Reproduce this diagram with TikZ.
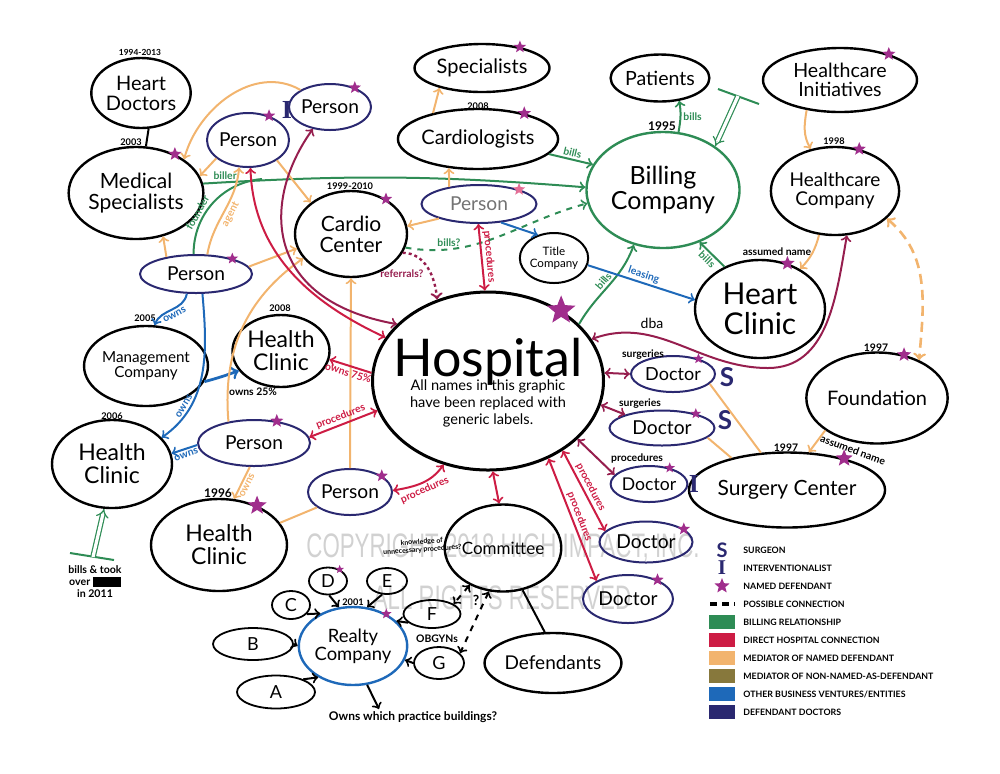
\documentclass[tikz,border=0pt]{standalone}
\usepackage{graphicx}
\usepackage{fontspec}
\setmainfont{Lato}
\newfontfamily\slabfont{Liberation Serif}
\newfontfamily\wmfont{Liberation Sans}
\usetikzlibrary{shapes.geometric,arrows.meta}
\definecolor{grn}{RGB}{46,140,85}
\definecolor{crim}{RGB}{205,28,68}
\definecolor{maro}{RGB}{150,30,78}
\definecolor{pnk}{RGB}{228,110,150}
\definecolor{orng}{RGB}{242,180,110}
\definecolor{olv}{RGB}{135,120,60}
\definecolor{blu}{RGB}{30,105,185}
\definecolor{nvy}{RGB}{42,40,112}
\definecolor{pstar}{RGB}{160,45,140}
\newcommand\fsz[1]{\fontsize{#1pt}{#1pt}\selectfont}
\tikzset{
  ent/.style={ellipse, draw, line width=1.2pt, inner sep=0pt, align=center},
  pers/.style={ent, draw=nvy, line width=1pt, font=\fsz{9.6}},
  lett/.style={ent, line width=0.9pt, font=\fsz{9}},
  lnk/.style={line width=1pt},
  grnln/.style={lnk, grn},
  orgln/.style={lnk, orng},
  bluln/.style={lnk, blu},
  crimln/.style={lnk, crim},
  maroln/.style={lnk, maro},
  lbl/.style={font=\bfseries\fsz{5.2}, inner sep=1pt},
  yr/.style={font=\bfseries\fsz{4.6}, inner sep=0pt},
  nstar/.style={star, star points=5, star point ratio=2.3, fill=pstar, inner sep=0pt, minimum size=#1},
  nstar/.default=7pt,
  glyph/.style={font=\bfseries\fsz{13}, text=nvy, inner sep=0pt},
  lgbox/.style={rectangle, minimum width=13pt, minimum height=7pt, inner sep=0pt},
  lgtxt/.style={font=\bfseries\fsz{4.4}, anchor=west, inner sep=0pt},
  wm/.style={font=\wmfont\fsz{17}, text=black!18, inner sep=0pt}
}
\begin{document}
\begin{tikzpicture}[x=0.5pt,y=0.5pt]
\useasboundingbox (0,0) rectangle (1000,-773);

\node[wm] (wm1) at (503,-548) {\scalebox{0.655}[1]{COPYRIGHT 2018 HIGH IMPACT, INC.}};
\node[wm] (wm2) at (502,-598) {\scalebox{0.655}[1]{ALL RIGHTS RESERVED}};

\node[ent, minimum width=46pt, minimum height=35pt, font=\fsz{10}] (hdoc) at (141,-93) {Heart\\Doctors};
\node[ent, minimum width=59pt, minimum height=46pt, font=\fsz{10.5}] (medspec) at (136,-193) {Medical\\Specialists};
\node[pers, minimum width=36.5pt, minimum height=27pt] (persI) at (248,-140) {Person};
\node[pers, minimum width=34.5pt, minimum height=23pt] (persTR) at (330,-107) {Person};
\node[ent, minimum width=56pt, minimum height=43pt, font=\fsz{10.5}] (cardio) at (351,-234) {Cardio\\Center};
\node[pers, minimum width=56pt, minimum height=19pt] (persL) at (196,-274) {Person};
\node[ent, minimum width=50pt, minimum height=40pt, font=\fsz{7.6}] (mgmt) at (146,-366) {Management\\Company};
\node[ent, minimum width=48.5pt, minimum height=36pt, font=\fsz{11.5}] (hc08) at (281,-351) {Health\\Clinic};
\node[ent, minimum width=60pt, minimum height=44pt, font=\fsz{11.5}] (hc06) at (112,-464) {Health\\Clinic};
\node[pers, minimum width=56pt, minimum height=23pt] (persP) at (254,-443) {Person};
\node[ent, minimum width=68pt, minimum height=46pt, font=\fsz{11.5}] (hc96) at (219,-545) {Health\\Clinic};
\node[pers, minimum width=42pt, minimum height=23pt] (persB) at (350,-492) {Person};
\node[ent, minimum width=67.5pt, minimum height=24pt, font=\fsz{10}] (spec) at (482,-68) {Specialists};
\node[ent, minimum width=74pt, minimum height=30pt, font=\fsz{10}] (cardiol) at (478,-139) {Cardiologists};
\node[pers, minimum width=57.5pt, minimum height=19pt, text=black!55] (persC) at (479,-204) {Person};
\node[ent, minimum width=30pt, minimum height=25pt, line width=1pt, font=\fsz{5.8}] (title) at (554,-258) {Title\\Company};
\node[ent, draw=grn, minimum width=76.5pt, minimum height=58pt, font=\fsz{12.5}] (billing) at (663,-190) {Billing\\Company};
\node[ent, minimum width=48pt, minimum height=23.5pt, font=\fsz{9.8}] (patients) at (660,-78) {Patients};
\node[ent, minimum width=77pt, minimum height=32pt, font=\fsz{9.8}] (hcinit) at (840,-80) {Healthcare\\Initiatives};
\node[ent, minimum width=57.5pt, minimum height=44pt, font=\fsz{9.5}] (hccomp) at (835,-191) {Healthcare\\Company};
\node[ent, minimum width=65pt, minimum height=49pt, font=\fsz{15}] (heartcl) at (760,-309) {Heart\\Clinic};
\node[ent, line width=1.5pt, minimum width=115.5pt, minimum height=89pt] (hosp) at (488,-381) {};
\node[font=\fsz{26}, inner sep=0pt] (hosptit) at (488,-362) {Hospital};
\node[font=\fontsize{7.3pt}{8.5pt}\selectfont, align=center, inner sep=0pt] (hospnote) at (488,-403) {All names in this graphic\\have been replaced with\\generic labels.};
\node[pers, minimum width=42pt, minimum height=18pt, font=\fsz{9}] (docS1) at (673,-374) {Doctor};
\node[pers, minimum width=52.5pt, minimum height=17.5pt, font=\fsz{9.6}] (docS2) at (662,-428) {Doctor};
\node[pers, minimum width=34pt, minimum height=18pt, font=\fsz{8.8}] (docI) at (649,-484) {Doctor};
\node[ent, minimum width=90pt, minimum height=37.5pt, font=\fsz{10.5}] (surg) at (787,-490) {Surgery Center};
\node[ent, minimum width=60.5pt, minimum height=45.5pt, font=\fsz{10}] (found) at (877,-398) {Foundation};
\node[pers, minimum width=46.5pt, minimum height=20.5pt, font=\fsz{9.6}] (docL1) at (646,-542) {Doctor};
\node[pers, minimum width=45pt, minimum height=24pt, font=\fsz{9.6}] (docL2) at (628,-599) {Doctor};
\node[ent, minimum width=55pt, minimum height=43.5pt, font=\fsz{8.5}] (comm) at (503,-548) {Committee};
\node[ent, minimum width=64.5pt, minimum height=30pt, font=\fsz{9.5}] (defs) at (553,-663) {Defendants};
\node[ent, draw=blu, minimum width=51.5pt, minimum height=39pt, font=\fsz{9.2}] (realty) at (353,-646) {Realty\\Company};
\node[lett, minimum width=19pt, minimum height=13.5pt] (pD) at (328,-581) {D};
\node[lett, minimum width=20pt, minimum height=13pt] (pE) at (387,-581) {E};
\node[lett, minimum width=19pt, minimum height=14pt] (pC) at (291,-605) {C};
\node[lett, minimum width=28.5pt, minimum height=14pt] (pF) at (432,-614) {F};
\node[lett, minimum width=40pt, minimum height=16pt] (pB) at (253,-644) {B};
\node[lett, minimum width=25pt, minimum height=16pt] (pG) at (439,-663) {G};
\node[lett, minimum width=39pt, minimum height=16.5pt] (pA) at (276,-692) {A};

\node[nstar=7pt] (st1) at (medspec.45) {};
\node[nstar=6.5pt] (st2) at (persI.49) {};
\node[nstar=6.5pt] (st3) at (persTR.38) {};
\node[nstar=6.5pt] (st4) at (cardio.45) {};
\node[nstar=6pt] (st5) at (persL.23) {};
\node[nstar=7pt] (st6) at (persP.44) {};
\node[nstar=10pt] (st7) at (hc96.46) {};
\node[nstar=6.5pt] (st8) at (persB.27) {};
\node[nstar=6.5pt] (st9) at (spec.29) {};
\node[nstar=7pt] (st10) at (cardiol.29) {};
\node[nstar=6.5pt, fill=pnk] (st11) at (persC.20) {};
\node[nstar=7pt] (st12) at (hccomp.60) {};
\node[nstar=7pt] (st13) at (hcinit.28) {};
\node[nstar=7.5pt] (st14) at (heartcl.59) {};
\node[nstar=15pt] (st15) at (hosp.44) {};
\node[nstar=5.5pt] (st16) at (docS1.31) {};
\node[nstar=5.5pt] (st17) at (docS2.23) {};
\node[nstar=5.5pt] (st18) at (docI.38) {};
\node[nstar=6.5pt] (st19) at (docL1.19) {};
\node[nstar=6.5pt] (st20) at (docL2.33) {};
\node[nstar=9pt] (st21) at (surg.29) {};
\node[nstar=7.5pt] (st22) at (found.58) {};
\node[nstar=5.5pt] (st23) at (realty.44) {};
\node[nstar=4.5pt] (st24) at (pD.45) {};

\node[glyph, font=\slabfont\bfseries\fsz{13}] (gI1) at (287,-110) {I};
\node[glyph, font=\slabfont\bfseries\fsz{13}] (gI2) at (694,-484) {I};
\node[glyph] (gS1) at (727,-377) {S};
\node[glyph] (gS2) at (725,-420) {S};

\node[yr, font=\bfseries\fsz{4.2}] (y1) at (140,-52) {1994-2013};
\node[yr] (y2) at (131,-142) {2003};
\node[yr] (y3) at (350,-186) {1999-2010};
\node[yr] (y4) at (280,-308) {2008};
\node[yr] (y5) at (145,-318) {2005};
\node[yr] (y6) at (112,-416) {2006};
\node[yr, font=\bfseries\fsz{6}] (y7) at (218,-493) {1996};
\node[yr] (y8) at (478,-106) {2008};
\node[yr, font=\bfseries\fsz{6}] (y9) at (662,-126) {1995};
\node[yr] (y10) at (834,-141) {1998};
\node[yr, font=\bfseries\fsz{5.2}] (y11) at (876,-348) {1997};
\node[yr, font=\bfseries\fsz{5.2}] (y12) at (786,-448) {1997};
\node[yr] (y13) at (353,-602) {2001};
\node[lbl] (an1) at (777,-252) {assumed name};
\node[lbl, rotate=-20] (an2) at (853,-450) {assumed name};
\node[lbl] (obg) at (437,-639) {OBGYNs};
\node[lbl, font=\bfseries\fsz{6}] (bldq) at (413,-717) {Owns which practice buildings?};
\node[lbl, align=center, font=\bfseries\fontsize{5.3pt}{6pt}\selectfont] (tookov) at (95,-582) {bills \& took\\over \rule[-0.6pt]{14pt}{5pt}\\in 2011};
\node[lbl, align=center, rotate=4, font=\bfseries\fontsize{3.5pt}{4pt}\selectfont] (knw) at (422,-546) {knowledge of\\unnecessary procedures?};
\node[lbl, font=\bfseries\fsz{7}] (qm) at (476,-600) {?};
\node[lbl] (lsg1) at (643,-355) {surgeries};
\node[lbl] (lsg2) at (640,-404) {surgeries};
\node[lbl] (lprI) at (637,-458) {procedures};
\node[font=\fsz{7}, inner sep=0pt] (ldba) at (652,-323) {dba};
\node[lbl] (lo25) at (253,-392) {owns 25\%};

\draw[lnk] (hdoc.-78) -- (medspec.78);
\draw[lnk] (comm.-65) -- (defs.105);

\coordinate (bjoin) at (262,-179);
\draw[grnln,-to] (medspec.8) to[bend left=4] node[pos=0.05,above,lbl]{biller} (billing.178);
\draw[grnln] (persL.97) to[out=90,in=185] node[pos=0.35,sloped,above,lbl]{founder} (bjoin);
\draw[grnln,-to] (cardiol.-12) -- node[sloped,above,lbl]{bills} (billing.160);
\draw[grnln,-to] (billing.75) to[out=80,in=-80] node[right,lbl]{bills} (patients.-50);
\draw[grnln,-to] (heartcl.130) -- node[sloped,below,lbl]{bills} (billing.-55);
\draw[grnln,-to] (hosp.32) to[out=60,in=-110] node[sloped,above,lbl]{bills} (billing.-118);
\draw[grnln,dashed,-to] (cardio.-14) to[out=-10,in=195] node[pos=0.22,above,lbl]{bills?} (billing.190);
\coordinate (tb) at (738,-96);
\coordinate (tbL) at (718,-89);
\coordinate (tbR) at (759,-104);
\draw[grnln] (tbL) -- (tbR);
\draw[grn, line width=0.6pt, double, double distance=1.6pt, -{Implies}] (tb) -- (billing.40);
\coordinate (tb2) at (93,-557);
\coordinate (tb2L) at (70,-553);
\coordinate (tb2R) at (114,-560);
\draw[grnln] (tb2L) -- (tb2R);
\draw[grn, line width=0.6pt, double, double distance=1.6pt, -{Implies}] (tb2) -- (hc06.-100);

\draw[bluln,-to] (persC.-40) -- (title.125);
\draw[bluln,-to] (title.-12) -- node[sloped,above,lbl]{leasing} (heartcl.172);
\draw[bluln,-to] (persL.-115) to[out=-100,in=70] node[sloped,below,lbl]{owns} (mgmt.78);
\draw[bluln,-to] (persL.-72) to[out=-85,in=35] node[pos=0.75,sloped,above,lbl]{owns} (hc06.28);
\draw[bluln,line width=1.4pt,-to] (mgmt.-15) to[out=15,in=200] (hc08.205);
\draw[bluln,-to] (persP.182) -- node[sloped,below,lbl]{owns} (hc06.10);

\draw[orgln,-to] (persI.210) -- (medspec.15);
\draw[orgln,-to] (persTR.150) to[out=150,in=75] (medspec.35);
\draw[orgln,-to] (persL.150) -- (medspec.-58);
\draw[orgln,-to] (persL.60) to[out=80,in=-95] node[sloped,below,lbl]{agent} (persI.-108);
\draw[orgln,-to] (persI.-35) -- (cardio.142);
\draw[orgln,-to] (persL.8) -- (cardio.195);
\draw[orgln,-to] (persP.140) to[out=95,in=215] (cardio.207);
\draw[orgln,-to] (persB.90) -- (cardio.-90);
\draw[orgln] (hc96.20) -- (persB.205);
\draw[orgln,-to] (persP.-100) -- node[sloped,below,lbl]{owns} (hc96.72);
\draw[orgln] (docS1.-15) -- (surg.125);
\draw[orgln] (docS2.-12) -- (surg.150);
\draw[orgln,-to] (found.212) -- (surg.60);
\draw[orgln,-to] (hcinit.222) to[out=-100,in=120] (hccomp.120);
\draw[orgln,-to] (hccomp.-110) to[bend left=15] (heartcl.45);
\draw[orgln,line width=1.3pt,dash pattern=on 5pt off 3pt,to-to] (hccomp.-28) to[out=-40,in=85] (found.42);
\draw[orgln,-to] (cardiol.150) -- (spec.-155);
\draw[orgln,-to] (persC.150) -- (cardiol.-135);
\draw[orgln,-to] (persC.200) -- (cardio.8);

\draw[crimln,to-to] (persI.-85) to[out=-88,in=155] (hosp.157);
\draw[maroln,to-to] (persTR.-128) .. controls (262,-200) and (262,-300) .. (hosp.148);
\draw[crimln,-to] (hosp.176) -- node[sloped,below,lbl]{owns 75\%} (hc08.-10);
\draw[crimln,to-to] (persP.6) -- node[sloped,above,lbl]{procedures} (hosp.195);
\draw[crimln,to-to] (persB.2) to[out=10,in=235] node[sloped,below,lbl]{procedures} (hosp.242);
\draw[crimln,to-to] (hosp.-87) -- (comm.95);
\draw[crimln,to-to] (hosp.-52) -- node[sloped,above,lbl]{procedures} (docL2.150);
\draw[crimln,to-to] (hosp.-43) -- node[sloped,above,lbl]{procedures} (docL1.165);
\draw[maroln,to-to] (hosp.-33) -- (docI.165);
\draw[maroln,to-to] (hosp.-12) -- (docS2.160);
\draw[maroln,to-to] (hosp.4) -- (docS1.180);
\coordinate (dbalow) at (768,-368);
\draw[maroln,to-to] (hosp.22) to[out=20,in=180] (dbalow) to[out=0,in=-100] (hccomp.-75);
\draw[maroln,line width=1.2pt,dash pattern=on 1.5pt off 1.5pt,-to] (cardio.-20) to[out=0,in=95] node[pos=0.6,left=2pt,lbl]{referrals?} (hosp.122);
\draw[crimln,to-to] (persC.-92) -- node[sloped,above,lbl]{procedures} (hosp.92);

\draw[lnk,dashed,to-to] (comm.228) -- (pF.25);
\draw[lnk,dashed,to-to] (comm.-108) -- (pG.25);
\draw[lnk,-to] (pA.25) -- (realty.222);
\draw[lnk,-to] (pB.0) -- (realty.180);
\draw[lnk,-to] (pC.-30) -- (realty.135);
\draw[lnk,-to] (pD.-85) -- (realty.110);
\draw[lnk,-to] (pE.-110) -- (realty.70);
\draw[lnk,-to] (pF.200) -- (realty.30);
\draw[lnk,-to] (pG.180) -- (realty.-15);
\draw[lnk,-to] (realty.-70) -- ([xshift=-17pt]bldq.north);

\node[glyph, font=\bfseries\fsz{10}] (lgS) at (722,-550) {S};
\node[glyph, font=\slabfont\bfseries\fsz{10.5}] (lgI) at (722,-568) {I};
\node[nstar=8pt] (lgst) at (722,-586) {};
\coordinate (lgd1) at (710,-604);
\coordinate (lgd2) at (735,-604);
\draw[line width=1.6pt, dash pattern=on 3.5pt off 2.5pt] (lgd1) -- (lgd2);
\node[lgbox, fill=grn] (lgb1) at (722,-622) {};
\node[lgbox, fill=crim] (lgb2) at (722,-640) {};
\node[lgbox, fill=orng] (lgb3) at (722,-658) {};
\node[lgbox, fill=olv] (lgb4) at (722,-676) {};
\node[lgbox, fill=blu] (lgb5) at (722,-694) {};
\node[lgbox, fill=nvy] (lgb6) at (722,-712) {};
\node[lgtxt] (lt1) at (743,-550) {SURGEON};
\node[lgtxt] (lt2) at (743,-568) {INTERVENTIONALIST};
\node[lgtxt] (lt3) at (743,-586) {NAMED DEFENDANT};
\node[lgtxt] (lt4) at (743,-604) {POSSIBLE CONNECTION};
\node[lgtxt] (lt5) at (743,-622) {BILLING RELATIONSHIP};
\node[lgtxt] (lt6) at (743,-640) {DIRECT HOSPITAL CONNECTION};
\node[lgtxt] (lt7) at (743,-658) {MEDIATOR OF NAMED DEFENDANT};
\node[lgtxt] (lt8) at (743,-676) {MEDIATOR OF NON-NAMED-AS-DEFENDANT};
\node[lgtxt] (lt9) at (743,-694) {OTHER BUSINESS VENTURES/ENTITIES};
\node[lgtxt] (lt10) at (743,-712) {DEFENDANT DOCTORS};
\end{tikzpicture}
\end{document}
